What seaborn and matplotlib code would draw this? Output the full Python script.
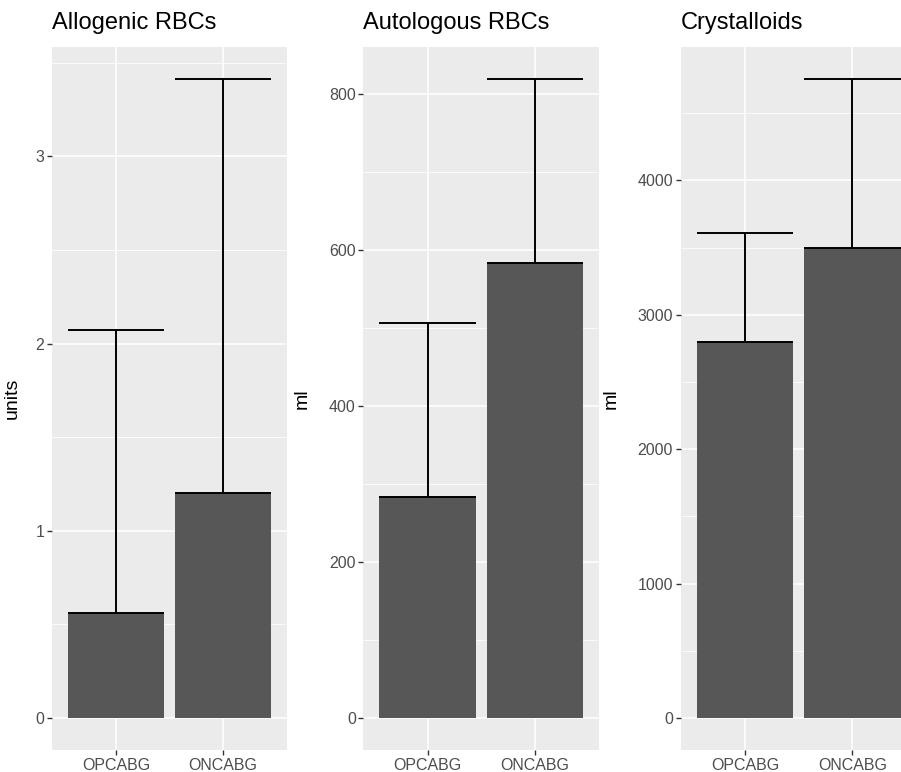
import matplotlib
import matplotlib.pyplot as plt
import numpy as np
import pandas as pd
import seaborn as sns
from matplotlib.ticker import MultipleLocator

groups = ["OPCABG", "ONCABG"]

titles = ["Allogenic RBCs", "Autologous RBCs", "Crystalloids"]
ylabels = ["units", "ml", "ml"]

allogenic_mean = [0.56, 1.20]
allogenic_sd = [1.515, 2.215]
autologous_mean = [284, 584]
autologous_sd = [223, 236]
crystalloid_mean = [2800, 3500]
crystalloid_sd = [805, 1256]

means = [allogenic_mean, autologous_mean, crystalloid_mean]
sds = [allogenic_sd, autologous_sd, crystalloid_sd]
major_steps = [1, 200, 1000]

sns.set_theme(style="darkgrid")
plt.rcParams["font.family"] = ["Liberation Sans", "DejaVu Sans"]
matplotlib.rcParams.update(
    {
        "axes.facecolor": "#EBEBEB",
        "grid.color": "white",
        "xtick.color": "#333333",
        "ytick.color": "#333333",
        "xtick.labelcolor": "#4D4D4D",
        "ytick.labelcolor": "#4D4D4D",
    }
)

fig = plt.figure(figsize=(9.01, 7.72), dpi=100)
W, H = 901, 772
# panel boxes in pixels (left, right); the last one runs off the right edge
lefts = [52, 363.3, 680.6]
rights = [287, 599.4, 916.7]
top, bottom = 46.7, 750
label_x = [21, 311, 620]

for i in range(3):
    l, r = lefts[i], rights[i]
    ax = fig.add_axes([l / W, (H - bottom) / H, (r - l) / W, (bottom - top) / H])
    df = pd.DataFrame({"group": groups, "mean": means[i], "sd": sds[i]})
    sns.barplot(
        df,
        x="group",
        y="mean",
        order=groups,
        color="#575757",
        saturation=1,
        width=0.9,
        linewidth=0,
        errorbar=None,
        ax=ax,
    )
    xs = np.arange(len(groups))
    lo = df["mean"].to_numpy()
    hi = lo + df["sd"].to_numpy()
    ax.vlines(xs, lo, hi, color="black", lw=1.4, zorder=3)
    ax.hlines(hi, xs - 0.45, xs + 0.45, color="black", lw=1.4, zorder=3)
    ax.hlines(lo, xs - 0.45, xs + 0.45, color="black", lw=1.4, zorder=3)

    ymax = hi.max()
    pad = ymax * 0.05
    ax.set_ylim(-pad, ymax + pad)
    ax.set_xlim(-0.6, 1.6)

    ax.yaxis.set_major_locator(MultipleLocator(major_steps[i]))
    ax.yaxis.set_minor_locator(MultipleLocator(major_steps[i] / 2))
    ax.grid(True, which="major", axis="both", color="white", lw=1.1)
    ax.grid(True, which="minor", axis="y", color="white", lw=0.55)
    ax.set_axisbelow(True)
    for s in ax.spines.values():
        s.set_visible(False)

    ax.tick_params(axis="both", which="major", length=3.4, width=1.0,
                   labelsize=11.5, pad=2, left=True, bottom=True)
    ax.tick_params(axis="both", which="minor", length=0)

    ax.set_xlabel("")
    ax.set_ylabel(ylabels[i], fontsize=14, color="black")
    ax.yaxis.set_label_coords((label_x[i] - l) / (r - l), 0.5)
    ax.set_title(titles[i], loc="left", fontsize=17, color="black", pad=13)

fig.savefig("out.png", dpi=100)
